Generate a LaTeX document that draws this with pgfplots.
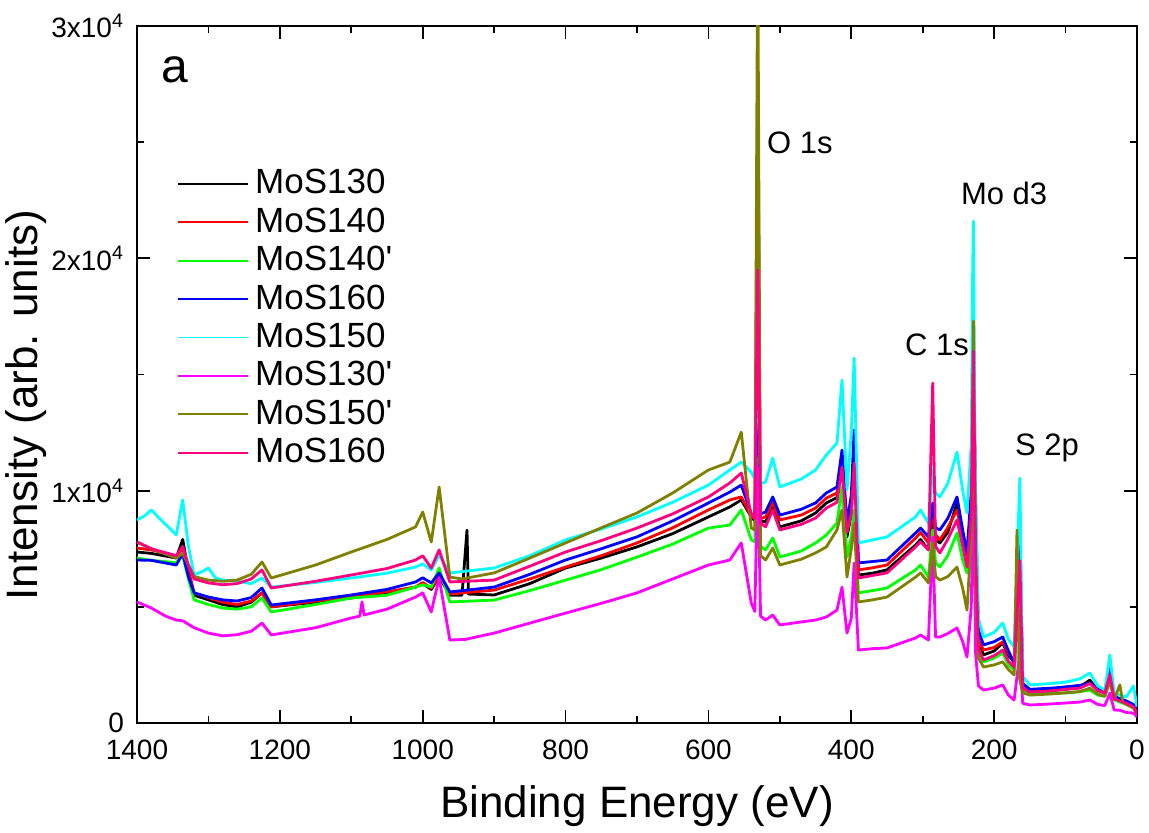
\documentclass[border=0pt]{standalone}
\usepackage{fontspec}
\setmainfont{Liberation Sans}
\usepackage{pgfplots}
\pgfplotsset{compat=1.18}
\definecolor{cBlack}{RGB}{0,0,0}
\definecolor{cRed}{RGB}{255,0,0}
\definecolor{cGreen}{RGB}{0,255,0}
\definecolor{cBlue}{RGB}{0,0,255}
\definecolor{cCyan}{RGB}{0,255,255}
\definecolor{cMag}{RGB}{255,0,255}
\definecolor{cOlive}{RGB}{128,128,0}
\definecolor{cPink}{RGB}{255,0,128}
\begin{document}
\begin{tikzpicture}
\path[use as bounding box] (0,0) rectangle (574.5pt,416.5pt);
\begin{axis}[
  at={(68.5pt,55pt)}, anchor=south west,
  scale only axis, width=500pt, height=348.5pt,
  x dir=reverse,
  xmin=0, xmax=1400, ymin=0, ymax=30000,
  axis line style={line width=1pt},
  every tick/.style={line width=0.9pt, black},
  major tick length=6.5pt, minor tick length=3.5pt,
  tick align=inside,
  xtick={0,200,400,600,800,1000,1200,1400},
  xticklabels={0,200,400,600,800,1000,1200,1400},
  minor xtick={100,300,500,700,900,1100,1300},
  ytick={0,10000,20000,30000},
  yticklabels={0,1x10\textsuperscript{4},2x10\textsuperscript{4},3x10\textsuperscript{4}},
  minor ytick={5000,15000,25000},
  scaled y ticks=false,
  ticklabel style={font=\fontsize{14}{16}\selectfont},
  xticklabel style={yshift=-5pt},
  yticklabel style={xshift=-3pt},
  xlabel={Binding Energy (eV)},
  ylabel={Intensity (arb. units)},
  label style={font=\fontsize{22}{26}\selectfont},
  xlabel style={at={(axis description cs:0.5,-0.136)}, anchor=base},
  ylabel style={at={(axis description cs:-0.111,0.456)}, anchor=center},
  legend style={at={(0.040,0.797)}, anchor=north west, draw=none, fill=white,
     inner sep=0pt, font=\fontsize{17.5}{19}\selectfont, row sep=3.2pt, column sep=1pt,
     nodes={inner ysep=0pt, text height=13pt, text depth=3pt}},
  legend cell align=left,
  legend image code/.code={\draw[#1] (0pt,0pt) -- (35pt,0pt);},
  legend image post style={line width=0.9pt},
  every axis plot/.append style={line width=1.4pt, line join=round},
]
% MoS130 black
\addplot[cBlack] coordinates {
(1400,7360)(1380,7300)(1345,7100)(1336,7900)(1328,6500)(1320,5500)(1300,5300)(1280,5100)(1260,5000)(1240,5200)(1225,5600)(1212,5000)(1150,5200)(1100,5380)(1050,5600)(1010,5850)(1000,6000)(988,5750)(977,6300)(962,5500)(945,5500)(938,8300)(936,5550)(900,5510)(850,6000)(800,6670)(750,7100)(700,7580)(650,8150)(600,8870)(570,9300)(554,9600)(540,8870)(535,8700)(531,14000)(527,8700)(520,8650)(510,9300)(500,8440)(470,8700)(450,9040)(435,9470)(420,9700)(413,11190)(406,8010)(400,9000)(396,12000)(390,6370)(370,6450)(350,6590)(310,7660)(303,7900)(292,7450)(286,8870)(282,7900)(276,7750)(265,8200)(252,9470)(244,8000)(238,7015)(232,9000)(229,16200)(226,8000)(222,3500)(215,2930)(200,3100)(188,3440)(180,2900)(171,2600)(167,8200)(164,5000)(160,1500)(150,1330)(120,1400)(100,1450)(80,1550)(66,1850)(55,1400)(45,1300)(38,2150)(32,1100)(24,1000)(15,900)(5,700)(0,400)
};
\addlegendentry{MoS130}
% MoS140 red
\addplot[cRed] coordinates {
(1400,7530)(1380,7450)(1345,7200)(1336,7500)(1328,6600)(1320,5600)(1300,5400)(1280,5200)(1260,5100)(1240,5250)(1225,5600)(1212,5000)(1150,5250)(1100,5450)(1050,5650)(1010,5850)(1000,6050)(988,5800)(977,6350)(962,5550)(900,5720)(850,6200)(800,6710)(750,7200)(700,7750)(650,8400)(600,9170)(570,9600)(554,9730)(540,8900)(535,8800)(531,27800)(527,8800)(520,8870)(510,9510)(500,8740)(470,8950)(450,9250)(435,9680)(420,9900)(413,11450)(406,8310)(400,9300)(396,11750)(390,6590)(370,6680)(350,6800)(310,7960)(303,8200)(292,7750)(286,9170)(282,8100)(276,7880)(265,8400)(252,9170)(244,8000)(238,7015)(232,9500)(229,16600)(226,8500)(222,3600)(215,3140)(200,3250)(188,3490)(180,3000)(172,2650)(164,7500)(160,1600)(150,1400)(120,1450)(100,1550)(80,1600)(66,1720)(55,1450)(45,1300)(38,2150)(32,1100)(24,1000)(15,900)(5,750)(0,450)
};
\addlegendentry{MoS140}
% MoS140' green
\addplot[cGreen] coordinates {
(1400,7100)(1380,7000)(1345,6900)(1336,7200)(1328,6200)(1320,5300)(1300,5100)(1280,4950)(1260,4900)(1240,5000)(1225,5380)(1212,4780)(1150,5100)(1100,5380)(1050,5500)(1010,5850)(1000,5950)(988,5850)(977,6670)(962,5210)(900,5290)(850,5700)(800,6150)(750,6600)(700,7140)(650,7700)(600,8390)(570,8520)(554,9170)(540,7880)(535,7800)(531,13000)(527,7600)(520,7450)(510,7960)(500,7145)(470,7400)(450,7750)(435,8090)(420,8610)(413,10160)(406,7145)(400,8000)(396,9170)(390,5600)(370,5700)(350,5810)(310,6590)(303,6800)(292,6280)(286,8310)(282,6900)(276,6710)(265,7200)(252,8180)(244,7000)(238,6460)(232,8000)(229,15500)(226,7500)(222,3000)(215,2630)(200,2800)(188,3010)(180,2500)(172,2280)(164,6500)(160,1400)(150,1250)(120,1280)(100,1290)(80,1350)(66,1420)(55,1200)(45,1150)(38,1900)(32,1000)(24,900)(15,800)(5,650)(0,400)
};
\addlegendentry{MoS140\textquotesingle}
% MoS160 blue
\addplot[cBlue] coordinates {
(1400,7015)(1380,7000)(1345,6800)(1336,7300)(1328,6300)(1320,5600)(1300,5420)(1280,5300)(1260,5250)(1240,5400)(1225,5810)(1212,5080)(1150,5300)(1100,5510)(1050,5750)(1010,6070)(1000,6250)(988,6030)(977,6460)(962,5640)(900,5850)(850,6400)(800,7015)(750,7500)(700,8010)(650,8700)(600,9470)(570,9940)(554,10240)(540,9000)(535,8900)(531,15000)(527,9000)(520,9080)(510,9730)(500,8950)(470,9200)(450,9470)(435,9900)(420,10160)(413,11750)(406,8610)(400,9800)(396,12610)(390,6890)(370,6950)(350,7015)(310,8180)(303,8390)(292,8010)(286,9470)(282,8400)(276,8310)(265,8800)(252,9730)(244,8300)(238,7320)(232,10000)(229,17700)(226,9000)(222,4000)(215,3360)(200,3500)(188,3700)(180,3100)(172,2580)(164,8310)(160,1700)(150,1450)(120,1500)(100,1550)(80,1620)(66,1720)(55,1450)(45,1350)(38,2410)(32,1150)(24,1050)(15,950)(5,800)(0,500)
};
\addlegendentry{MoS160}
% MoS150 cyan
\addplot[cCyan] coordinates {
(1400,8740)(1390,8900)(1380,9170)(1365,8700)(1345,8100)(1336,9600)(1328,7600)(1320,6370)(1310,6500)(1300,6670)(1290,6240)(1280,6150)(1260,6100)(1240,6000)(1225,6240)(1212,5850)(1150,6050)(1100,6240)(1050,6450)(1010,6710)(1000,6850)(988,6590)(977,7230)(962,6460)(900,6670)(850,7200)(800,7880)(750,8350)(700,8870)(650,9500)(600,10240)(570,10890)(554,11230)(540,10800)(535,10500)(531,16000)(527,10300)(520,10370)(510,11400)(500,10160)(470,10500)(450,10890)(435,11530)(420,12050)(413,14760)(406,10030)(400,12500)(396,15710)(390,7750)(370,7880)(350,8010)(310,8870)(303,9170)(292,8610)(286,10890)(282,9900)(276,9730)(265,10300)(252,11660)(244,10000)(238,9040)(232,12000)(230,19700)(229,21600)(227,12000)(222,4500)(215,3700)(200,3900)(188,4300)(180,3600)(172,3270)(164,10540)(160,2000)(150,1640)(120,1700)(100,1760)(80,1900)(66,2150)(55,1600)(45,1420)(38,2930)(32,1300)(24,1200)(15,1120)(5,1600)(0,700)
};
\addlegendentry{MoS150}
% MoS130' magenta
\addplot[cMag] coordinates {
(1400,5210)(1380,4950)(1360,4600)(1345,4430)(1336,4400)(1320,4100)(1300,3870)(1280,3750)(1260,3800)(1240,3950)(1225,4300)(1212,3790)(1150,4100)(1100,4520)(1088,4600)(1085,5210)(1082,4650)(1050,4900)(1010,5420)(1000,5600)(988,4780)(977,6240)(962,3570)(940,3600)(900,3870)(850,4300)(800,4730)(750,5150)(700,5600)(650,6200)(600,6800)(570,7015)(554,7750)(540,5165)(535,4800)(531,11000)(527,4600)(520,4430)(510,4650)(500,4220)(470,4350)(450,4430)(435,4560)(420,4860)(413,5850)(406,3870)(400,4500)(396,6890)(390,3140)(370,3200)(350,3230)(310,3660)(303,3790)(292,3570)(286,8000)(282,3700)(276,3700)(265,3850)(252,4090)(244,3500)(238,2840)(232,5000)(229,11000)(226,3000)(222,1600)(215,1420)(200,1500)(188,1640)(180,1200)(172,990)(164,3000)(160,850)(150,775)(120,820)(100,860)(80,900)(66,990)(55,800)(45,750)(38,1290)(32,560)(24,550)(15,450)(5,430)(0,260)
};
\addlegendentry{MoS130\textquotesingle}
% MoS150' olive
\addplot[cOlive] coordinates {
(1400,7790)(1380,7500)(1345,7100)(1336,7300)(1328,6800)(1320,6300)(1300,6150)(1280,6100)(1260,6150)(1240,6400)(1225,6930)(1212,6240)(1150,6800)(1100,7360)(1050,7900)(1010,8440)(1000,9080)(988,7790)(977,10160)(962,6280)(945,6200)(900,6460)(850,7100)(800,7750)(750,8400)(700,9040)(650,9900)(600,10890)(570,11230)(554,12520)(540,8390)(535,8300)(531,34000)(527,7200)(520,7015)(510,7530)(500,6800)(470,7050)(450,7320)(435,7575)(420,8310)(413,9170)(406,6280)(400,7500)(396,8600)(390,5210)(370,5300)(350,5420)(310,6280)(303,6460)(292,6030)(286,7750)(282,6300)(276,6150)(265,6300)(252,6710)(244,5800)(238,4860)(232,8000)(229,17300)(226,6000)(222,2800)(215,2410)(200,2500)(188,2630)(180,2300)(172,2070)(168,8310)(165,2000)(160,1300)(150,1200)(120,1250)(100,1300)(80,1350)(66,1500)(55,1250)(45,1150)(38,1800)(32,1000)(24,1640)(20,900)(15,800)(5,650)(0,400)
};
\addlegendentry{MoS150\textquotesingle}
% MoS160 pink
\addplot[cPink] coordinates {
(1400,7790)(1380,7500)(1345,7200)(1336,7600)(1328,6800)(1320,6200)(1300,6030)(1280,5950)(1260,6000)(1240,6200)(1225,6590)(1212,5810)(1150,6100)(1100,6370)(1050,6650)(1010,7015)(1000,7200)(988,6670)(977,7450)(962,6070)(900,6150)(850,6750)(800,7360)(750,7850)(700,8390)(650,9000)(600,9730)(570,10330)(554,10760)(540,9000)(535,8800)(531,19500)(527,8600)(520,8440)(510,9170)(500,8310)(470,8550)(450,8820)(435,9250)(420,9500)(413,11020)(406,8200)(400,9000)(396,11190)(390,6240)(370,6350)(350,6460)(310,7580)(303,7800)(292,7450)(286,14630)(282,7600)(276,7320)(265,7900)(252,8740)(244,7600)(238,6710)(232,9000)(229,16000)(226,7500)(222,3200)(215,2710)(200,2900)(188,3140)(180,2650)(172,2410)(164,7000)(160,1500)(150,1330)(120,1380)(100,1450)(80,1500)(66,1700)(55,1400)(45,1300)(38,2100)(32,1050)(24,950)(15,850)(5,700)(0,400)
};
\addlegendentry{MoS160}
\node[font=\fontsize{24}{28}\selectfont] at (axis cs:1347,28100) {a};
\node[font=\fontsize{15.5}{18}\selectfont] at (axis cs:472,24960) {O 1s};
\node[font=\fontsize{15.5}{18}\selectfont] at (axis cs:186,22810) {Mo d3};
\node[font=\fontsize{15.5}{18}\selectfont] at (axis cs:280,16270) {C 1s};
\node[font=\fontsize{15.5}{18}\selectfont] at (axis cs:126,11840) {S 2p};
\end{axis}
\end{tikzpicture}
\end{document}
